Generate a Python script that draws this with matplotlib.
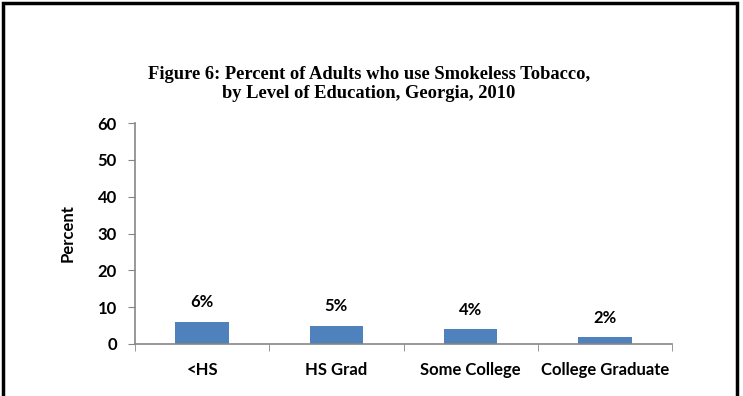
import numpy as np
import matplotlib.pyplot as plt
from matplotlib.patches import Rectangle

categories = ['<HS', 'HS Grad', 'Some College', 'College Graduate']
percent = [6.1, 5.0, 4.0, 2.0]
bar_labels = ['6%', '5%', '4%', '2%']
yticks = [0, 10, 20, 30, 40, 50, 60]

bar_color = '#4F81BD'
axis_color = '#868686'
lab_font = 'Lato'
fs = 12

fig = plt.figure(figsize=(7.43, 3.96), dpi=100)
ax = fig.add_axes([135/743, 1 - 344/396, (672 - 135)/743, (344 - 123)/396])

x = np.arange(len(categories))
ax.bar(x, percent, width=0.4, color=bar_color, zorder=2)
for xi, v, lab in zip(x, percent, bar_labels):
    ax.annotate(lab, (xi, v), xytext=(0, 8), textcoords='offset points',
                ha='center', va='bottom', fontsize=fs, fontweight='bold',
                family=lab_font)

ax.set_xlim(-0.5, len(categories) - 0.5)
ax.set_ylim(0, 60)
ax.set_yticks(yticks)
ax.set_yticklabels([str(t) for t in yticks], fontsize=fs, fontweight='bold',
                   family=lab_font)
ax.set_xticks(x)
ax.set_xticklabels(categories, fontsize=fs, fontweight='bold', family=lab_font)
ax.set_xticks(np.arange(-0.5, len(categories)), minor=True)
ax.tick_params(axis='x', which='major', length=0, pad=13)
ax.tick_params(axis='x', which='minor', length=5, color=axis_color, direction='out')
ax.tick_params(axis='y', length=5, color=axis_color, pad=8)

for side in ['top', 'right']:
    ax.spines[side].set_visible(False)
for side in ['left', 'bottom']:
    ax.spines[side].set_color(axis_color)
    ax.spines[side].set_linewidth(1.2)

ax.set_ylabel('Percent', fontsize=fs, fontweight='bold', family=lab_font,
              labelpad=16)

fig.text(369/743, 1 - 84/396,
         'Figure 6: Percent of Adults who use Smokeless Tobacco,\nby Level of Education, Georgia, 2010',
         ha='center', va='center', fontsize=13.3, fontweight='bold',
         family='Liberation Serif', linespacing=1.2)

# outer black frame
fig.patches.append(Rectangle((3/743, -0.05), 734/743, 1 - 3/396 + 0.05,
                             transform=fig.transFigure, fill=False,
                             edgecolor='black', linewidth=2.5))

fig.savefig('out.png', dpi=100)
